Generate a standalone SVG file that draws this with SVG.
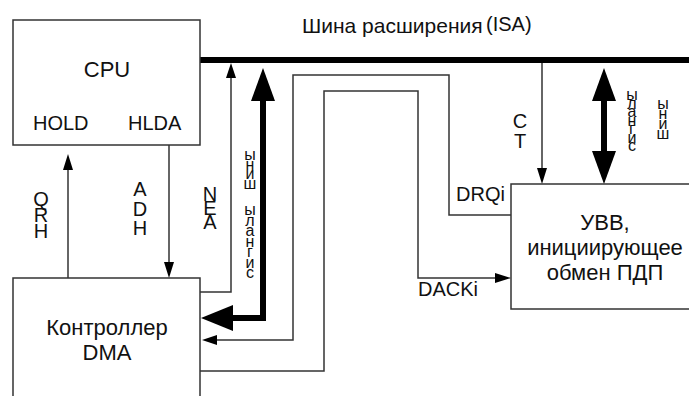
<svg xmlns="http://www.w3.org/2000/svg" width="689" height="396" viewBox="0 0 689 396">
<style>
  .box { fill: #fff; stroke: #333; stroke-width: 1.5; }
  .ln { fill: none; stroke: #333; stroke-width: 1.5; }
  .thick { fill: none; stroke: #000; stroke-width: 6; }
  .hd { fill: #000; }
  text { font-family: "Liberation Sans", Arial, sans-serif; fill: #111; }
  .big { font-size: 22px; }
  .lbl { font-size: 20px; }
  .mid { text-anchor: middle; }
  .v { writing-mode: vertical-rl; text-orientation: upright; }
  .vt { font-size: 20px; }
  .vs { font-size: 16px; }
</style>
<rect width="689" height="396" fill="#fff"/>

<g id="title">
  <text x="302" y="33" font-size="21">Шина расширения</text>
  <text x="486" y="31" font-size="20">(ISA)</text>
</g>

<g id="connectors">
  <line x1="200" y1="60" x2="695" y2="60" stroke="#000" stroke-width="6" stroke-linecap="round"/>
  <line class="ln" x1="68" y1="278" x2="68" y2="168"/>
  <polygon class="hd" points="68,154 63,170 73,170"/>
  <line class="ln" x1="169" y1="145" x2="169" y2="264"/>
  <polygon class="hd" points="169,278 164,262 174,262"/>
  <path class="ln" d="M200,292 H231 V76"/>
  <polygon class="hd" points="231,63 226,78 236,78"/>
  <path class="thick" d="M263,99 V318 H231"/>
  <polygon class="hd" points="263,68 251,101 275,101"/>
  <polygon class="hd" points="201,318 233,305 233,331"/>
  <path class="ln" d="M511,215 H449 V75 H293 V340 H215"/>
  <polygon class="hd" points="202,340 217,335 217,345"/>
  <path class="ln" d="M200,371 H324 V91 H418 V278 H497"/>
  <polygon class="hd" points="511,278 495,273 495,283"/>
  <line class="ln" x1="542" y1="63" x2="542" y2="170"/>
  <polygon class="hd" points="542,184 537,168 547,168"/>
  <line x1="604" y1="99" x2="604" y2="154" stroke="#000" stroke-width="6"/>
  <polygon class="hd" points="604,68 592,101 616,101"/>
  <polygon class="hd" points="604,184 592,151 616,151"/>
</g>

<g id="cpu">
  <rect class="box" x="13" y="20" width="187" height="125"/>
  <text class="big mid" x="107" y="77">CPU</text>
  <text class="lbl" x="33" y="130">HOLD</text>
  <text class="lbl" x="128" y="130">HLDA</text>
</g>

<g id="dma">
  <rect class="box" x="13" y="278" width="187" height="130"/>
  <text class="big mid" x="107" y="335">Контроллер</text>
  <text class="big mid" x="107" y="360">DMA</text>
</g>

<g id="uvv">
  <rect class="box" x="511" y="184" width="190" height="125"/>
  <text class="big mid" x="605" y="230">УВВ,</text>
  <text class="big mid" x="605" y="255">инициирующее</text>
  <text class="big mid" x="605" y="280">обмен ПДП</text>
</g>

<g id="labels">
  <text class="lbl" x="456" y="201">DRQi</text>
  <text class="lbl" x="418" y="296">DACKi</text>
  <text class="v vt" x="41" y="188" letter-spacing="-6">QRH</text>
  <text class="v vt" x="140" y="178" letter-spacing="-2.5">ADH</text>
  <text class="v vt" x="210" y="183" letter-spacing="-8">NEA</text>
  <text class="v vt" x="520" y="110" letter-spacing="-2.5">CT</text>
  <text class="v vs" x="250" y="146" letter-spacing="-7.5">ыниш</text>
  <text class="v vs" x="250" y="201" letter-spacing="-6.5">ылангис</text>
  <text class="v vs" x="632" y="86" letter-spacing="-8.5">ылангис</text>
  <text class="v vs" x="663" y="95" letter-spacing="-7">ыниш</text>
</g>
</svg>
